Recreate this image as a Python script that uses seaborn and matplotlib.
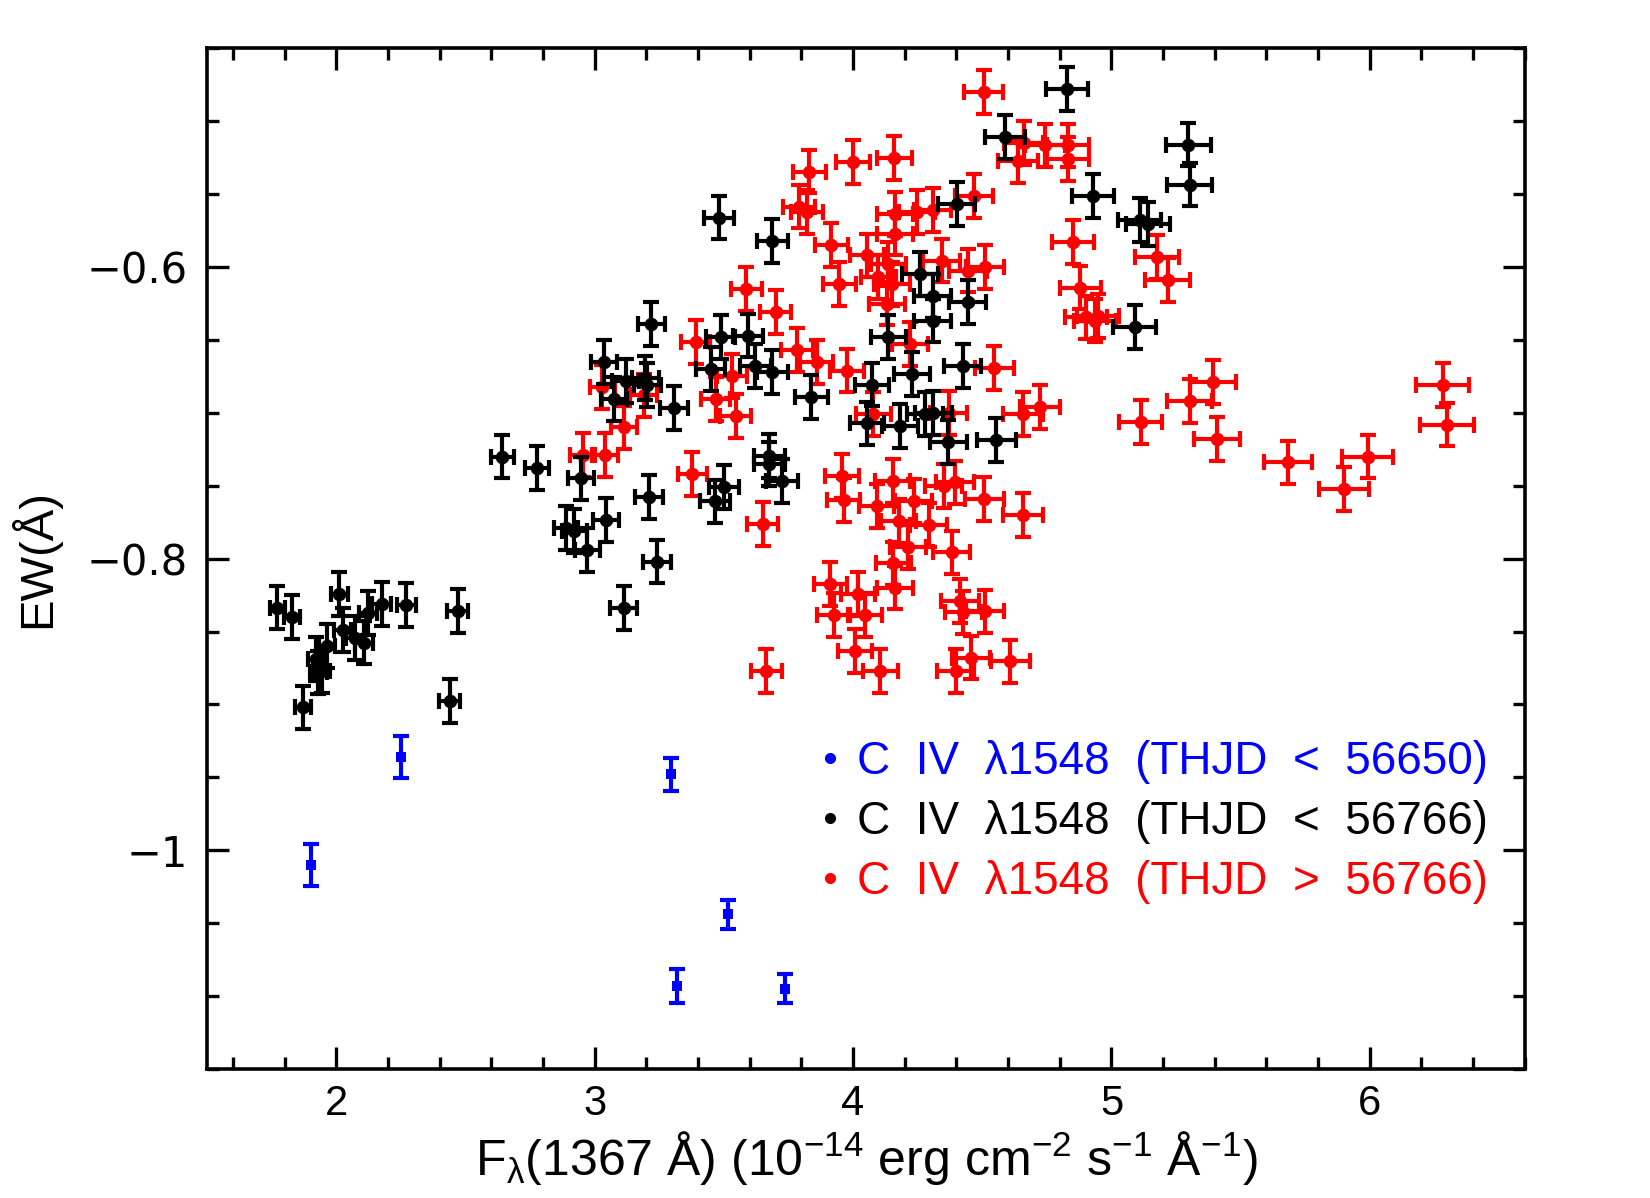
import numpy as np
import pandas as pd
import matplotlib
matplotlib.use("Agg")
import matplotlib.pyplot as plt
from matplotlib.lines import Line2D
from matplotlib.ticker import MultipleLocator, FuncFormatter
import seaborn as sns

sns.set_style("ticks", {"text.color": "black", "axes.labelcolor": "black",
                        "xtick.color": "black", "ytick.color": "black",
                        "axes.edgecolor": "black"})
plt.rcParams["font.family"] = ["Liberation Sans", "DejaVu Sans"]
plt.rcParams["mathtext.fontset"] = "custom"
plt.rcParams["mathtext.rm"] = "Liberation Sans"
plt.rcParams["mathtext.it"] = "Liberation Sans:italic"
plt.rcParams["mathtext.bf"] = "Liberation Sans:bold"

labels = ["C  IV  \u03bb1548  (THJD  <  56650)",
          "C  IV  \u03bb1548  (THJD  <  56766)",
          "C  IV  \u03bb1548  (THJD  >  56766)"]
colors = ["#0000ff", "#000000", "#ff0000"]

# error sizes
FLUX_REL_ERR = 0.0165
EW_ERR = 0.015

blue_flux = [1.900, 2.250, 3.297, 3.517, 3.317, 3.736]
blue_ew = [-1.010, -0.936, -0.948, -1.044, -1.093, -1.095]
blue_ew_err = [0.0145, 0.0147, 0.011, 0.010, 0.0116, 0.010]

black_flux = [1.771, 1.827, 2.011, 2.024, 1.964, 2.071, 2.106, 2.123, 2.175, 2.271,
              2.470, 1.921, 1.943, 1.930, 1.870, 2.438,
              2.642, 2.777, 2.947, 2.889, 2.921, 2.971, 3.043, 3.210, 3.242, 3.112,
              3.037, 3.120, 3.195, 3.204, 3.073, 3.307, 3.219, 3.487, 3.593, 3.449,
              3.622, 3.687, 3.838, 3.480, 3.687, 3.500, 3.465, 3.676, 3.676, 3.725,
              4.073, 4.053, 4.182, 4.279, 4.311, 4.369, 4.555, 4.227, 4.424, 4.137,
              4.308, 4.443, 4.308, 4.259, 4.401, 4.588, 4.828, 5.298, 5.303, 4.927,
              5.109, 5.141, 5.090]
black_ew = [-0.8335, -0.840, -0.824, -0.849, -0.860, -0.8545, -0.8575, -0.837, -0.831, -0.832,
            -0.836, -0.869, -0.877, -0.878, -0.902, -0.8975,
            -0.730, -0.738, -0.745, -0.779, -0.781, -0.794, -0.7735, -0.7575, -0.802, -0.834,
            -0.665, -0.678, -0.676, -0.681, -0.6905, -0.6966, -0.639, -0.648, -0.647, -0.670,
            -0.668, -0.672, -0.689, -0.566, -0.582, -0.7507, -0.7607, -0.7298, -0.735, -0.7465,
            -0.6806, -0.7072, -0.7088, -0.7008, -0.7003, -0.7202, -0.7186, -0.6733, -0.6676, -0.6477,
            -0.6367, -0.624, -0.6196, -0.6047, -0.5566, -0.511, -0.478, -0.516, -0.5434, -0.551,
            -0.5676, -0.5704, -0.6413]

red_flux = [2.953, 3.039, 3.114, 3.030, 3.391, 3.378, 3.468, 3.545, 3.530, 3.587,
            3.700, 3.651, 3.664, 3.783, 3.860, 3.976, 3.831, 3.998, 4.160, 3.790,
            3.822, 3.916, 3.947, 4.053, 4.163, 4.246, 4.308, 4.163, 4.469, 4.639,
            4.742, 4.832, 4.832, 4.505, 4.098, 4.137, 4.150, 4.131, 4.343, 4.446,
            4.510, 4.851, 4.880, 4.903, 4.935, 4.948, 5.175, 5.218, 4.221, 4.546,
            4.079, 4.370, 4.658, 4.723, 5.113, 5.303, 5.392, 5.408, 5.684, 5.992,
            5.899, 6.282, 6.299, 3.957, 3.963, 4.092, 4.153, 4.234, 4.350, 4.395,
            4.508, 4.658, 4.176, 4.292, 4.214, 4.381, 4.156, 4.163, 3.912, 4.019,
            3.925, 4.047, 4.008, 4.105, 4.414, 4.427, 4.510, 4.456, 4.397, 4.609,
            3.190, 4.660]
red_ew = [-0.729, -0.729, -0.710, -0.682, -0.6516, -0.742, -0.6905, -0.702, -0.6745, -0.615,
          -0.631, -0.776, -0.877, -0.657, -0.6653, -0.671, -0.5345, -0.528, -0.525, -0.5585,
          -0.562, -0.5846, -0.6115, -0.592, -0.5635, -0.5624, -0.561, -0.577, -0.551, -0.527,
          -0.5166, -0.5166, -0.5257, -0.480, -0.607, -0.598, -0.6115, -0.625, -0.5955, -0.6024,
          -0.600, -0.583, -0.614, -0.6345, -0.6367, -0.6333, -0.593, -0.609, -0.6527, -0.669,
          -0.7008, -0.700, -0.7008, -0.696, -0.706, -0.692, -0.679, -0.718, -0.734, -0.730,
          -0.752, -0.681, -0.708, -0.7431, -0.7598, -0.7637, -0.7465, -0.7603, -0.750, -0.7477,
          -0.7591, -0.7699, -0.774, -0.7767, -0.7918, -0.7957, -0.8033, -0.8198, -0.8175, -0.8243,
          -0.8385, -0.8385, -0.8632, -0.8769, -0.8289, -0.8369, -0.8362, -0.8678, -0.8769, -0.8705,
          -0.688, -0.515]

df = pd.concat([
    pd.DataFrame({"flux": blue_flux, "ew": blue_ew, "ew_err": blue_ew_err,
                  "flux_err": 0.0, "epoch": labels[0]}),
    pd.DataFrame({"flux": black_flux, "ew": black_ew, "ew_err": EW_ERR,
                  "flux_err": FLUX_REL_ERR * np.array(black_flux), "epoch": labels[1]}),
    pd.DataFrame({"flux": red_flux, "ew": red_ew, "ew_err": EW_ERR,
                  "flux_err": FLUX_REL_ERR * np.array(red_flux), "epoch": labels[2]}),
], ignore_index=True)

fig = plt.figure(figsize=(16.5, 11.98), dpi=100)
ax = fig.add_axes([0.1256, 0.1077, 0.7985, 0.8519])

# red first, black on top of it, blue last
order = [(labels[2], colors[2], "o", 95), (labels[1], colors[1], "o", 95), (labels[0], colors[0], "s", 55)]
for i, (lab, col, mk, size) in enumerate(order):
    sub = df[df["epoch"] == lab]
    xerr = sub["flux_err"] if sub["flux_err"].max() > 0 else None
    ax.errorbar(sub["flux"], sub["ew"], xerr=xerr, yerr=sub["ew_err"], fmt="none",
                ecolor=col, elinewidth=3.0, capsize=5.5, capthick=3.0, zorder=2 + 2 * i)
    sns.scatterplot(data=sub, x="flux", y="ew", color=col, marker=mk, s=size,
                    linewidth=0, ax=ax, zorder=3 + 2 * i, legend=False)

ax.set_xlim(1.5, 6.6)
ax.set_ylim(-1.15, -0.45)
ax.xaxis.set_major_locator(MultipleLocator(1))
ax.xaxis.set_minor_locator(MultipleLocator(0.2))
ax.yaxis.set_major_locator(MultipleLocator(0.2))
ax.yaxis.set_minor_locator(MultipleLocator(0.05))
ax.yaxis.set_major_formatter(FuncFormatter(lambda v, p: f"{v:g}".replace("-", "\u2212")))

for s in ax.spines.values():
    s.set_linewidth(2.6)
ax.tick_params(which="both", direction="in", top=True, right=True, width=2.4)
ax.tick_params(which="major", length=16)
ax.tick_params(which="minor", length=8.5)
ax.tick_params(axis="x", labelsize=30, pad=11)
ax.tick_params(axis="y", pad=14)
for t in ax.get_yticklabels():
    t.set_fontfamily("DejaVu Sans")
    t.set_fontsize(30)

ax.set_xlabel(r"F$_{\mathrm{\lambda}}$(1367 Å) (10$^{-14}$ erg cm$^{-2}$ s$^{-1}$ Å$^{-1}$)",
              fontsize=36)
ax.set_ylabel("EW(Å)", fontsize=34)
ax.xaxis.set_label_coords(0.5, -0.060)
ax.yaxis.set_label_coords(-0.112, 0.5)

handles = [Line2D([], [], linestyle="none", marker="o", markersize=8,
                  markerfacecolor=c, markeredgewidth=0) for c in colors]
ax.legend(handles, labels, loc="center left", bbox_to_anchor=(0.462, 0.242),
          frameon=False, fontsize=33, labelcolor=colors, handlelength=0.6,
          handletextpad=0.3, labelspacing=0.35, borderpad=0, borderaxespad=0)

fig.savefig("out.png", dpi=100)
